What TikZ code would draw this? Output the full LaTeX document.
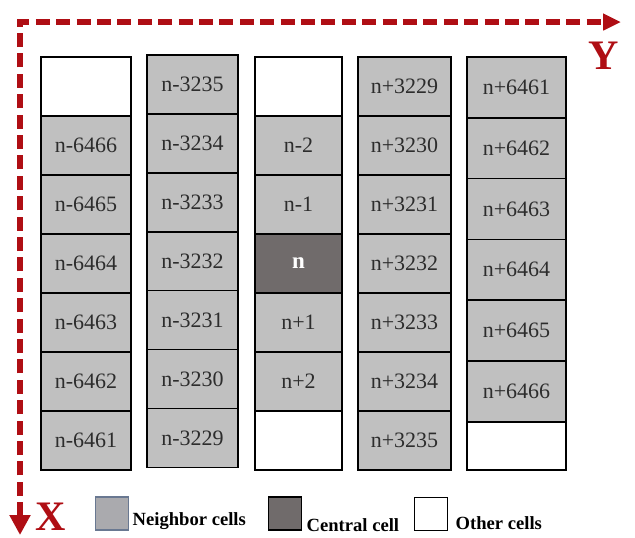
\documentclass[tikz,border=0pt]{standalone}
\usepackage{fontspec}
\setmainfont{Liberation Serif}
\usetikzlibrary{arrows.meta,positioning}
\definecolor{axisred}{RGB}{175,14,20}
\definecolor{cellgray}{RGB}{192,192,192}
\definecolor{centralgray}{RGB}{112,107,107}
\definecolor{leggray}{RGB}{170,170,174}
\definecolor{legedge}{RGB}{105,120,145}
\definecolor{celltext}{RGB}{45,45,45}

\tikzset{
  cell/.style={draw=black, line width=0.8pt, fill=cellgray, inner sep=0pt, outer sep=0pt,
    minimum height=29.5pt, text=celltext, font=\fontsize{11}{13}\selectfont},
  central/.style={cell, fill=centralgray, text=white, font=\fontsize{11.5}{13}\selectfont\bfseries},
  other/.style={cell, fill=white},
  axis/.style={draw=axisred, line width=3pt, dash pattern=on 7pt off 3.2pt,
    {Triangle[length=10pt,width=10pt]}-{Triangle[length=9pt,width=8pt]}},
  axislabel/.style={text=axisred, inner sep=0pt, font=\fontsize{21}{21}\selectfont\bfseries},
  legbox/.style={draw=black, line width=0.8pt, minimum size=16.5pt, inner sep=0pt},
  legtext/.style={font=\fontsize{9.3}{10}\selectfont\bfseries, inner sep=0.5pt}
}

\begin{document}
\begin{tikzpicture}[x=0.5pt, y=-0.5pt]
  \useasboundingbox (0,0) rectangle (635,537);

  %% Axes
  \coordinate (origin) at (20,22);
  \coordinate (yend) at (621,22);
  \coordinate (xend) at (20,535);
  \draw[axis] (xend) -- (origin) -- (yend);
  \node[axislabel] (ylab) at (604,56) {Y};
  \node[axislabel] (xlab) at (51,517) {X};

  %% Column 1
  \begin{scope}[nodes={minimum width=45pt}]
    \node[other] (a1) at (86,86.5) {};
    \node[cell, below=0pt of a1] (a2) {n-6466};
    \node[cell, below=0pt of a2] (a3) {n-6465};
    \node[cell, below=0pt of a3] (a4) {n-6464};
    \node[cell, below=0pt of a4] (a5) {n-6463};
    \node[cell, below=0pt of a5] (a6) {n-6462};
    \node[cell, below=0pt of a6] (a7) {n-6461};
  \end{scope}

  %% Column 2
  \begin{scope}[nodes={minimum width=45.5pt}, cell/.append style={minimum height=29.45pt}]
    \node[cell] (b1) at (192.5,84.5) {n-3235};
    \node[cell, below=0pt of b1] (b2) {n-3234};
    \node[cell, below=0pt of b2] (b3) {n-3233};
    \node[cell, below=0pt of b3] (b4) {n-3232};
    \node[cell, below=0pt of b4] (b5) {n-3231};
    \node[cell, below=0pt of b5] (b6) {n-3230};
    \node[cell, below=0pt of b6] (b7) {n-3229};
  \end{scope}

  %% Column 3 (central cell)
  \begin{scope}[nodes={minimum width=43.5pt}]
    \node[other] (c1) at (298.5,86.5) {};
    \node[cell, below=0pt of c1] (c2) {n-2};
    \node[cell, below=0pt of c2] (c3) {n-1};
    \node[central, below=0pt of c3] (c4) {n};
    \node[cell, below=0pt of c4] (c5) {n+1};
    \node[cell, below=0pt of c5] (c6) {n+2};
    \node[other, below=0pt of c6] (c7) {};
  \end{scope}

  %% Column 4
  \begin{scope}[nodes={minimum width=46.5pt}]
    \node[cell] (d1) at (404.5,86.5) {n+3229};
    \node[cell, below=0pt of d1] (d2) {n+3230};
    \node[cell, below=0pt of d2] (d3) {n+3231};
    \node[cell, below=0pt of d3] (d4) {n+3232};
    \node[cell, below=0pt of d4] (d5) {n+3233};
    \node[cell, below=0pt of d5] (d6) {n+3234};
    \node[cell, below=0pt of d6] (d7) {n+3235};
  \end{scope}

  %% Column 5
  \begin{scope}[nodes={minimum width=49.5pt}, cell/.append style={minimum height=30.4pt}]
    \node[cell] (e1) at (516.5,87.4) {n+6461};
    \node[cell, below=0pt of e1] (e2) {n+6462};
    \node[cell, below=0pt of e2] (e3) {n+6463};
    \node[cell, below=0pt of e3] (e4) {n+6464};
    \node[cell, below=0pt of e4] (e5) {n+6465};
    \node[cell, below=0pt of e5] (e6) {n+6466};
    \node[other, below=0pt of e6, minimum height=24.1pt] (e7) {};
  \end{scope}

  %% Legend
  \node[legbox, fill=leggray, draw=legedge] (legn) at (112,513.5) {};
  \node[legtext, right=1pt of legn.south east, anchor=south west] (legntxt) {Neighbor cells};
  \node[legbox, fill=centralgray] (legc) at (285,513.5) {};
  \node[legtext, right=1.5pt of legc.south east, anchor=south west, yshift=-1pt] (legctxt) {Central cell};
  \node[legbox, fill=white] (lego) at (431,514) {};
  \node[legtext, right=3pt of lego.south east, anchor=south west] (legotxt) {Other cells};
\end{tikzpicture}
\end{document}
